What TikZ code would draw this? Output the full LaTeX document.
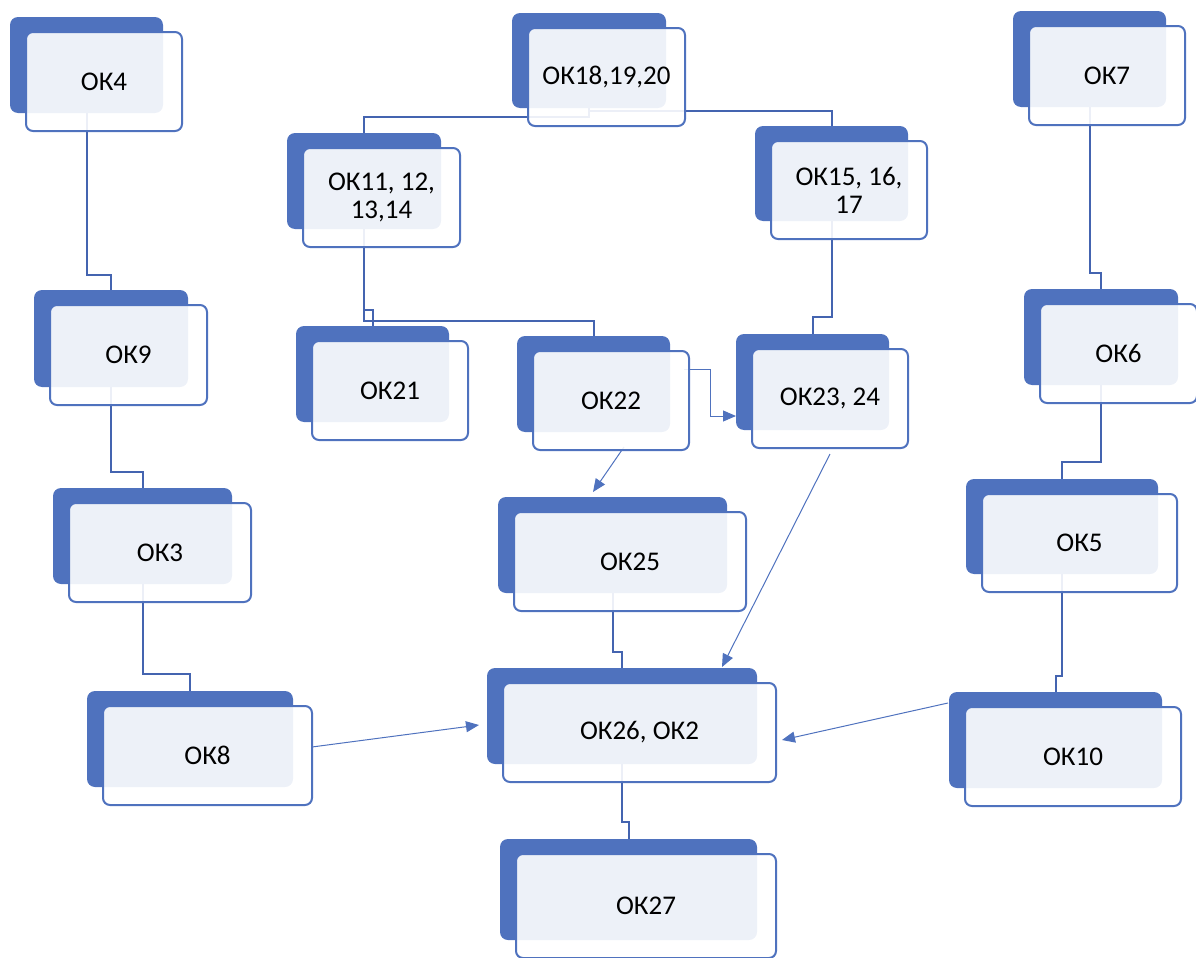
\documentclass[tikz,border=0pt]{standalone}
\usepackage{fontspec}
\setmainfont{Carlito}
\usetikzlibrary{calc,arrows.meta}
\definecolor{okblue}{RGB}{79,114,190}
\definecolor{okline}{RGB}{68,100,176}
\pgfdeclarelayer{backlayer}
\pgfdeclarelayer{midlayer}
\pgfsetlayers{backlayer,midlayer,main}
\tikzset{
  backbox/.style={fill=okblue, draw=none, rounded corners=4pt, inner sep=0pt, outer sep=0pt},
  frontbox/.style={fill=white, fill opacity=0.9, text opacity=1, draw=okblue, line width=1pt, rounded corners=3.5pt, inner sep=0pt, outer sep=0pt, align=center, font=\fontsize{13.5}{14}\selectfont},
  elbowline/.style={draw=okline, line width=1pt},
  thinarrow/.style={draw=okblue, line width=0.5pt, -{Triangle[length=6.5pt,width=5.5pt]}},
}
\newcommand\okbox[6]{%
  \begin{pgfonlayer}{backlayer}
  \node[backbox, minimum width={(#4-#2)*0.5pt}, minimum height={(#5-#3)*0.5pt}] (#1-b) at ({(#2+#4)/2},{(#3+#5)/2}) {};
  \end{pgfonlayer}
  \node[frontbox, minimum width={(#4-#2+3)*0.5pt}, minimum height={(#5-#3+3)*0.5pt}] (#1) at ({(#2+#4)/2+17.5},{(#3+#5)/2+16.5}) {#6};
}
\newcommand\okelbow[3]{\draw[elbowline] (#1-b.south) -- (#1-b.south |- 0,#3) -| (#2-b.north);}
\begin{document}
\begin{tikzpicture}[x=0.5pt,y=-0.5pt]
\useasboundingbox (0,0) rectangle (1196,958);
\okbox{ok4}{10}{17}{163}{113}{ОК4}
\okbox{ok18}{512}{13}{666}{108}{ОК18,19,20}
\okbox{ok7}{1013}{11}{1166}{107}{ОК7}
\okbox{ok11}{287}{133}{441}{229}{ОК11, 12,\\13,14}
\okbox{ok15}{755}{126}{908}{221}{ОК15, 16,\\17}
\okbox{ok9}{34}{290}{188}{387}{ОК9}
\okbox{ok6}{1024}{289}{1178}{385}{ОК6}
\okbox{ok21}{296}{326}{449}{422}{ОК21}
\okbox{ok22}{517}{336}{670}{432}{ОК22}
\okbox{ok23}{736}{334}{889}{430}{ОК23, 24}
\okbox{ok3}{53}{488}{232}{584}{ОК3}
\okbox{ok25}{498}{497}{727}{593}{ОК25}
\okbox{ok5}{966}{479}{1158}{574}{ОК5}
\okbox{ok8}{87}{691}{293}{787}{ОК8}
\okbox{ok26}{487}{668}{757}{764}{ОК26, ОК2}
\okbox{ok10}{949}{692}{1162}{788}{ОК10}
\okbox{ok27}{500}{839}{757}{940}{ОК27}
\begin{pgfonlayer}{midlayer}
\okelbow{ok4}{ok9}{275}
\okelbow{ok9}{ok3}{472}
\okelbow{ok3}{ok8}{674}
\okelbow{ok18}{ok11}{117}
\okelbow{ok18}{ok15}{111}
\okelbow{ok11}{ok21}{310}
\okelbow{ok11}{ok22}{321}
\okelbow{ok15}{ok23}{317}
\okelbow{ok7}{ok6}{273}
\okelbow{ok6}{ok5}{462}
\okelbow{ok5}{ok10}{676}
\okelbow{ok25}{ok26}{652}
\okelbow{ok26}{ok27}{822}
\draw[thinarrow] ($(ok8.east)+(0,-8.5)$) -- ($(ok26-b.west)+(-8,9)$);
\draw[thinarrow] ($(ok10-b.north west)+(-1,11)$) -- ($(ok26.east)+(6,7.5)$);
\draw[thinarrow] ($(ok23.south)+(0,6)$) -- ($(ok26-b.north east)+(-35,-1)$);
\draw[thinarrow] ($(ok22.south)+(13,-3)$) -- ($(ok25-b.north)+(-19.5,-5)$);
\draw[thinarrow] ($(ok22.north east)+(-5,18)$) -| ($(ok23-b.south west)+(-26,-14)$) -- ($(ok23-b.south west)+(0,-14)$);
\end{pgfonlayer}
\end{tikzpicture}
\end{document}
